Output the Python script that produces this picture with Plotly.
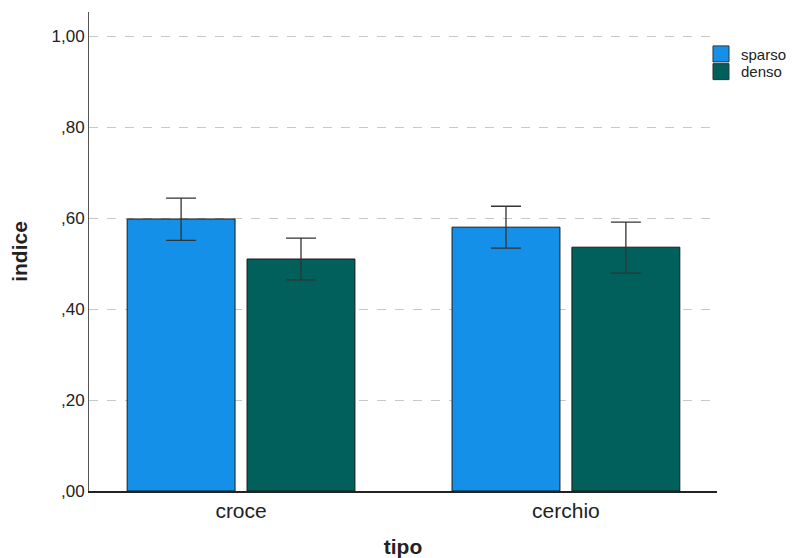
import plotly.graph_objects as go

categories = ["croce", "cerchio"]
sparso = [0.598, 0.580]
sparso_hi = [0.644, 0.626]
sparso_lo = [0.551, 0.534]
denso = [0.510, 0.536]
denso_hi = [0.556, 0.591]
denso_lo = [0.464, 0.479]
tick_vals = [0, 0.2, 0.4, 0.6, 0.8, 1.0]
tick_text = [",00", ",20", ",40", ",60", ",80", "1,00"]
series_names = ["sparso", "denso"]
series_colors = ["#1490E8", "#01605C"]

def err(vals, hi, lo):
    return dict(type="data", symmetric=False,
                array=[h - v for h, v in zip(hi, vals)],
                arrayminus=[v - l for v, l in zip(vals, lo)],
                color="#333333", thickness=1.3, width=15)

fig = go.Figure()
for name, vals, hi, lo, col in [("sparso", sparso, sparso_hi, sparso_lo, series_colors[0]),
                                ("denso", denso, denso_hi, denso_lo, series_colors[1])]:
    fig.add_trace(go.Bar(x=categories, y=vals, name=name, showlegend=False,
                         marker=dict(color=col, line=dict(color="#1a1a1a", width=1)),
                         error_y=err(vals, hi, lo)))
# legend entries with larger square swatches, each in its own legend box
for name, col, lg in zip(series_names, series_colors, ["legend", "legend2"]):
    fig.add_trace(go.Scatter(x=[None], y=[None], mode="markers", name=name, legend=lg,
                             marker=dict(symbol="square", size=18, color=col,
                                         line=dict(color="#333333", width=1))))

legend_common = dict(xanchor="left", yanchor="middle", x=0.9745,
                     font=dict(size=15, color="#222222"), itemwidth=30,
                     bgcolor="rgba(0,0,0,0)", borderwidth=0)

fig.update_layout(
    width=786, height=550,
    margin=dict(l=81, r=77, t=4, b=67, autoexpand=False),
    paper_bgcolor="white", plot_bgcolor="white",
    barmode="group", bargap=0.262, bargroupgap=0.1,
    font=dict(family="Liberation Sans, Arial, sans-serif", size=17, color="#222222"),
    showlegend=True,
    legend=dict(y=0.912, **legend_common),
    legend2=dict(y=0.875, **legend_common),
    xaxis=dict(range=[-0.468, 1.465], showline=True, linecolor="#222222", linewidth=2,
               ticks="", showgrid=False, zeroline=False, automargin=False,
               tickfont=dict(size=21),
               title=dict(text="<b>tipo</b>", font=dict(size=21), standoff=20)),
    yaxis=dict(range=[0, 1.053], tickvals=tick_vals, ticktext=tick_text,
               showline=True, linecolor="#555555", linewidth=1, automargin=False,
               tickfont=dict(size=17),
               ticks="", showgrid=True, gridcolor="#c8c8c8", griddash="dash", gridwidth=1,
               zeroline=False,
               title=dict(text="<b>indice</b>", font=dict(size=21), standoff=20)),
)
fig.write_html("out.html")
